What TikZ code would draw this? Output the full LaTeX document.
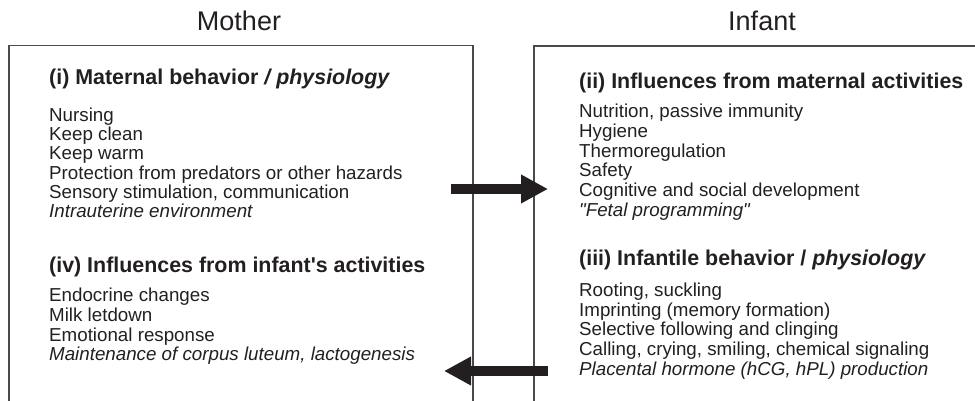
\documentclass[tikz,border=0pt]{standalone}
\usepackage{fontspec}
\setmainfont{Liberation Sans}[Ligatures=TeXOff]
\usetikzlibrary{arrows.meta}
\definecolor{ink}{HTML}{231F20}
\definecolor{frame}{HTML}{4A4A4A}
\tikzset{
  x=1pt, y=-1pt,
  title/.style={font=\fontsize{27}{30}\selectfont, text=ink, inner sep=0pt, anchor=base},
  head/.style={font=\fontsize{21.4}{24}\selectfont\bfseries, text=ink, inner sep=0pt, anchor=base west},
  item/.style={font=\fontsize{18.75}{20}\selectfont, text=ink, inner sep=0pt, anchor=base west},
  boxline/.style={draw=frame, line width=1.1pt},
  bigarrow/.style={draw=ink, line width=10pt, -{Triangle[length=27pt,width=27pt]}},
}
\begin{document}
\begin{tikzpicture}
\useasboundingbox (0,0) rectangle (975,401);
% titles
\node[title] (mother) at (239,31) {Mother};
\node[title] (infant) at (762,31) {Infant};
% boxes
\draw[boxline] (9,402) -- (9,45.5) -- (473,45.5) -- (473,402);
\draw[boxline] (534,402) -- (534,46) -- (976,46);
% left box
\node[head] (h1) at (49,85) {(i) Maternal behavior \textit{/ physiology}};
\node[item] (a1) at (49,121.3) {Nursing};
\node[item] (a2) at (49,140.6) {Keep clean};
\node[item] (a3) at (49,159.9) {Keep warm};
\node[item] (a4) at (49,179.2) {Protection from predators or other hazards};
\node[item] (a5) at (49,198.5) {Sensory stimulation, communication};
\node[item] (a6) at (49,217.8) {\itshape Intrauterine environment};
\node[head] (h4) at (49,272) {(iv) Influences from infant's activities};
\node[item] (d1) at (49,301.7) {Endocrine changes};
\node[item] (d2) at (49,321.3) {Milk letdown};
\node[item] (d3) at (49,341) {Emotional response};
\node[item] (d4) at (49,360.7) {\itshape Maintenance of corpus luteum, lactogenesis};
% right box
\node[head] (h2) at (579,88.3) {(ii) Influences from maternal activities};
\node[item] (b1) at (579,117.5) {Nutrition, passive immunity};
\node[item] (b2) at (579,137.3) {Hygiene};
\node[item] (b3) at (579,157.1) {Thermoregulation};
\node[item] (b4) at (579,176.9) {Safety};
\node[item] (b5) at (579,196.7) {Cognitive and social development};
\node[item] (b6) at (579,216.7) {\itshape "Fetal programming"};
\node[head] (h3) at (579,265) {(iii) Infantile behavior / \textit{physiology}};
\node[item] (c1) at (579,296.7) {Rooting, suckling};
\node[item] (c2) at (579,316.3) {Imprinting (memory formation)};
\node[item] (c3) at (579,335.9) {Selective following and clinging};
\node[item] (c4) at (579,355.5) {Calling, crying, smiling, chemical signaling};
\node[item] (c5) at (579,375) {\itshape Placental hormone (hCG, hPL) production};
% arrows
\coordinate (r0) at (451,189);
\coordinate (r1) at (548,189);
\coordinate (l0) at (548,371);
\coordinate (l1) at (444,371);
\draw[bigarrow] (r0) -- (r1);
\draw[bigarrow] (l0) -- (l1);
\end{tikzpicture}
\end{document}
